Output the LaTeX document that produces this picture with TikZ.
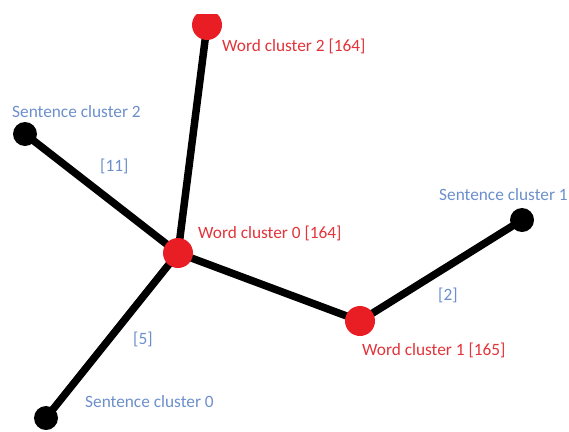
\documentclass[tikz,border=0pt]{standalone}
\usepackage{fontspec}
\setmainfont{Carlito}
\usetikzlibrary{backgrounds}
\definecolor{dotred}{RGB}{232,30,36}
\definecolor{labred}{RGB}{226,52,58}
\definecolor{labblue}{RGB}{108,143,204}
\tikzset{
  wordnode/.style={circle, fill=dotred, inner sep=0pt, minimum size=30pt},
  sentnode/.style={circle, fill=black, inner sep=0pt, minimum size=24pt},
  link/.style={line width=7.5pt, black},
  wordlab/.style={anchor=base west, inner sep=0pt, text=labred,
    font=\fontsize{17.3pt}{20pt}\selectfont},
  sentlab/.style={anchor=base west, inner sep=0pt, text=labblue,
    font=\fontsize{17.3pt}{20pt}\selectfont},
}
\begin{document}
\begin{tikzpicture}[x=1pt, y=-1pt]
\useasboundingbox (0,0) rectangle (569,431);
\clip (0,14) rectangle (569,431);

% cluster points
\node[wordnode] (w2) at (207,25) {};
\node[wordnode] (w0) at (178,253) {};
\node[wordnode] (w1) at (360,321) {};
\node[sentnode] (s2) at (25,134) {};
\node[sentnode] (s1) at (522,220) {};
\node[sentnode] (s0) at (46,418) {};

% links, drawn under the points
\begin{scope}[on background layer]
  \draw[link] (s2.center) -- (w0.center);
  \draw[link] (w2.center) -- (w0.center);
  \draw[link] (w0.center) -- (w1.center);
  \draw[link] (w1.center) -- (s1.center);
  \draw[link] (w0.center) -- (s0.center);
\end{scope}

% point labels
\node[wordlab] (lw2) at (222,51) {Word cluster 2 [164]};
\node[wordlab] (lw0) at (198,238) {Word cluster 0 [164]};
\node[wordlab] (lw1) at (362,355) {Word cluster 1 [165]};
\node[sentlab] (ls2) at (12,117) {Sentence cluster 2};
\node[sentlab] (ls1) at (439,200) {Sentence cluster 1};
\node[sentlab] (ls0) at (85,407) {Sentence cluster 0};

% link labels
\node[sentlab] (e11) at (100,171) {[11]};
\node[sentlab] (e2) at (438,300) {[2]};
\node[sentlab] (e5) at (133,344) {[5]};
\end{tikzpicture}
\end{document}
